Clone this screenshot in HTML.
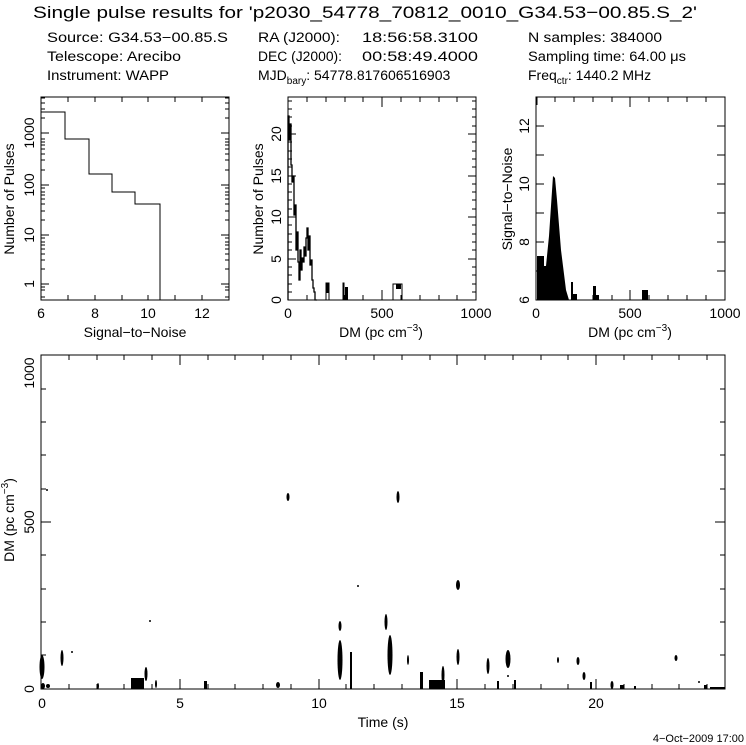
<!DOCTYPE html>
<html><head><meta charset="utf-8"><style>
html,body{margin:0;padding:0;background:#fff;}
svg{display:block;}
text{font-family:"Liberation Sans",sans-serif;fill:#000;}
</style></head><body>
<svg width="746" height="745" viewBox="0 0 746 745" xmlns="http://www.w3.org/2000/svg">
<g font-size="17">
<text x="33" y="18" textLength="664" lengthAdjust="spacingAndGlyphs">Single pulse results for 'p2030_54778_70812_0010_G34.53−00.85.S_2'</text>
</g>
<g font-size="13.5">
<text x="47" y="42" textLength="181" lengthAdjust="spacingAndGlyphs">Source: G34.53−00.85.S</text>
<text x="47" y="61" textLength="134" lengthAdjust="spacingAndGlyphs">Telescope: Arecibo</text>
<text x="47" y="80" textLength="122" lengthAdjust="spacingAndGlyphs">Instrument: WAPP</text>
<text x="258" y="42" textLength="82" lengthAdjust="spacingAndGlyphs">RA (J2000):</text>
<text x="362" y="42" textLength="116" lengthAdjust="spacingAndGlyphs">18:56:58.3100</text>
<text x="258" y="61" textLength="84" lengthAdjust="spacingAndGlyphs">DEC (J2000):</text>
<text x="362" y="61" textLength="116" lengthAdjust="spacingAndGlyphs">00:58:49.4000</text>
<text x="258" y="80" font-size="14">MJD<tspan font-size="10" dy="4">bary</tspan><tspan dy="-4">: 54778.817606516903</tspan></text>
<text x="528" y="42" textLength="134" lengthAdjust="spacingAndGlyphs">N samples: 384000</text>
<text x="528" y="61" textLength="158" lengthAdjust="spacingAndGlyphs">Sampling time: 64.00 μs</text>
<text x="528" y="80" font-size="14">Freq<tspan font-size="10" dy="4">ctr</tspan><tspan dy="-4">: 1440.2 MHz</tspan></text>
</g>

<g fill="none" stroke="#000" stroke-width="1">
<rect x="41" y="97" width="188" height="203"/>
<path d="M41,112 H65 V139 H89 V174 H112 V192 H135 V204 H160 V300"/>
<path d="M68,97v5M95,97v5M122,97v5M148,97v5M175,97v5M202,97v5M68,300v-5M95,300v-5M122,300v-5M148,300v-5M175,300v-5M202,300v-5
M41,284h8M41,235h8M41,185h8M41,133h8M229,284h-8M229,235h-8M229,185h-8M229,133h-8
M41,297h4M41,290h4M41,287h4M41,269h4M41,260h4M41,254h4M41,249h4M41,245h4M41,242h4M41,238h4M41,220h4M41,211h4M41,204h4M41,199h4M41,195h4M41,192h4M41,188h4M41,170h4M41,160h4M41,154h4M41,149h4M41,145h4M41,142h4M41,139h4M41,118h4M41,109h4M41,103h4M41,98h4
M229,297h-4M229,290h-4M229,287h-4M229,269h-4M229,260h-4M229,254h-4M229,249h-4M229,245h-4M229,242h-4M229,238h-4M229,220h-4M229,211h-4M229,204h-4M229,199h-4M229,195h-4M229,192h-4M229,188h-4M229,170h-4M229,160h-4M229,154h-4M229,149h-4M229,145h-4M229,142h-4M229,139h-4M229,118h-4M229,109h-4M229,103h-4M229,98h-4"/>
<rect x="288" y="97" width="188" height="203"/>
<path d="M307,97v5M326,97v5M345,97v5M363,97v5M382,97v10M401,97v5M420,97v5M439,97v5M457,97v5M307,300v-5M326,300v-5M345,300v-5M363,300v-5M382,300v-10M401,300v-5M420,300v-5M439,300v-5M457,300v-5
M288,259h8M288,217h8M288,176h8M288,134h8M476,259h-8M476,217h-8M476,176h-8M476,134h-8
M288,292h4M288,284h4M288,275h4M288,267h4M288,250h4M288,242h4M288,234h4M288,225h4M288,209h4M288,200h4M288,192h4M288,184h4M288,167h4M288,159h4M288,151h4M288,142h4M288,126h4M288,117h4M288,109h4M288,101h4
M476,292h-4M476,284h-4M476,275h-4M476,267h-4M476,250h-4M476,242h-4M476,234h-4M476,225h-4M476,209h-4M476,200h-4M476,192h-4M476,184h-4M476,167h-4M476,159h-4M476,151h-4M476,142h-4M476,126h-4M476,117h-4M476,109h-4M476,101h-4"/>
<path stroke-width="1.3" d="M288,300 V116 H289 V140 H290 V124 H291 V165 H292 V182 H293 V176 H294 V215 H295 V205 H296 V250 H297 V232 H298 V262 H299 V280 H300 V250 H301 V270 H302 V258 H303 V262 H304 V247 H305 V256 H306 V238 H307 V228 H308 V250 H309 V236 H310 V265 H311 V260 H312 V280 H313 V288 H314 V292 H315 V300 H317"/>
<path d="M326,300V283h3v17M343,300V283h1v17M393,300V284h9v16"/>
<path fill="#000" stroke="none" d="M326,283h3v10h-3zM345,287h3v13h-3zM396,284h5v5h-5z"/>
<rect x="536" y="97" width="189" height="203"/>
<path d="M555,97v5M574,97v5M593,97v5M612,97v5M630,97v10M649,97v5M668,97v5M687,97v5M706,97v5M555,300v-5M574,300v-5M593,300v-5M612,300v-5M630,300v-10M649,300v-5M668,300v-5M687,300v-5M706,300v-5
M536,271h8M536,242h8M536,213h8M536,184h8M536,155h8M536,126h8M725,271h-8M725,242h-8M725,213h-8M725,184h-8M725,155h-8M725,126h-8"/>
<rect x="41" y="355" width="684" height="334"/>
<path d="M69,689v-5M97,689v-5M124,689v-5M152,689v-5M180,689v-10M208,689v-5M235,689v-5M263,689v-5M291,689v-5M319,689v-10M346,689v-5M374,689v-5M402,689v-5M430,689v-5M457,689v-10M485,689v-5M513,689v-5M541,689v-5M568,689v-5M596,689v-10M624,689v-5M652,689v-5M679,689v-5M707,689v-5
M69,355v5M97,355v5M124,355v5M152,355v5M180,355v10M208,355v5M235,355v5M263,355v5M291,355v5M319,355v10M346,355v5M374,355v5M402,355v5M430,355v5M457,355v10M485,355v5M513,355v5M541,355v5M568,355v5M596,355v10M624,355v5M652,355v5M679,355v5M707,355v5
M41,655h5M41,622h5M41,589h5M41,555h5M41,522h10M41,489h5M41,455h5M41,422h5M41,389h5
M725,655h-5M725,622h-5M725,589h-5M725,555h-5M725,522h-10M725,489h-5M725,455h-5M725,422h-5M725,389h-5"/>
</g>
<g fill="#000">
<path d="M537,300 V256 h7 v10 l2,0 l3,-30 l4,-60 l2,2 l2,22 l4,50 l5,40 l3,10 Z"/>
<rect x="536" y="97" width="1.5" height="8"/>
<rect x="571" y="282" width="2" height="18"/><rect x="572" y="294" width="5" height="6"/>
<rect x="593" y="286" width="3" height="14"/><rect x="594" y="295" width="5" height="5"/>
<rect x="642" y="290" width="6" height="10"/>
</g>
<g fill="#000">
<ellipse cx="42" cy="667" rx="2.5" ry="12"/><ellipse cx="43" cy="686" rx="2" ry="3"/><ellipse cx="48" cy="686" rx="2" ry="2"/>
<ellipse cx="62" cy="658" rx="1.5" ry="8"/><circle cx="72" cy="652" r="1"/><circle cx="47" cy="490" r="1"/><circle cx="150" cy="621" r="1"/>
<ellipse cx="98" cy="686" rx="1" ry="3"/><rect x="131" y="678" width="13" height="11"/><ellipse cx="146" cy="674" rx="1.5" ry="7"/>
<ellipse cx="156" cy="684" rx="1" ry="4"/><rect x="204" y="681" width="3" height="8"/><ellipse cx="278" cy="685" rx="2" ry="3"/>
<ellipse cx="288" cy="497" rx="1.5" ry="4"/><ellipse cx="340" cy="626" rx="1.5" ry="5"/><ellipse cx="340" cy="660" rx="2.5" ry="20"/>
<rect x="350" y="652" width="2" height="37"/><circle cx="358" cy="586" r="1"/><ellipse cx="386" cy="622" rx="1.5" ry="8"/>
<ellipse cx="390" cy="655" rx="2.5" ry="20"/><ellipse cx="398" cy="497" rx="1.5" ry="6"/><ellipse cx="408" cy="660" rx="1" ry="5"/>
<rect x="420" y="672" width="3" height="17"/><rect x="429" y="680" width="16" height="9"/><ellipse cx="443" cy="675" rx="1.5" ry="9"/>
<ellipse cx="458" cy="585" rx="2" ry="5"/><ellipse cx="458" cy="657" rx="1.5" ry="8"/><ellipse cx="488" cy="666" rx="1.5" ry="8"/>
<rect x="497" y="681" width="2" height="8"/><ellipse cx="508" cy="659" rx="2.5" ry="9"/><circle cx="508" cy="676" r="1"/>
<rect x="514" y="680" width="2" height="9"/><ellipse cx="558" cy="660" rx="1" ry="3"/><ellipse cx="578" cy="661" rx="1.5" ry="4"/>
<ellipse cx="584" cy="676" rx="1.5" ry="4"/><rect x="590" y="682" width="2" height="7"/><ellipse cx="612" cy="685" rx="1.5" ry="4"/>
<rect x="620" y="685" width="4" height="4"/><rect x="634" y="686" width="2" height="3"/><ellipse cx="676" cy="658" rx="1.5" ry="3"/>
<circle cx="699" cy="682" r="1"/><rect x="704" y="685" width="3" height="4"/><rect x="710" y="687" width="15" height="2"/>
</g>

<g font-size="14" text-anchor="middle">
<text x="41" y="318">6</text><text x="95" y="318">8</text><text x="148" y="318">10</text><text x="202" y="318">12</text>
<text x="135" y="337">Signal−to−Noise</text>
<text x="288" y="318">0</text><text x="382" y="318">500</text><text x="476" y="318">1000</text>
<text x="381" y="337">DM (pc cm<tspan font-size="10" dy="-6">−3</tspan><tspan dy="6">)</tspan></text>
<text x="536" y="318">0</text><text x="630" y="318">500</text><text x="725" y="318">1000</text>
<text x="630" y="337">DM (pc cm<tspan font-size="10" dy="-6">−3</tspan><tspan dy="6">)</tspan></text>
<text x="42" y="708">0</text><text x="180" y="708">5</text><text x="319" y="708">10</text><text x="457" y="708">15</text><text x="596" y="708">20</text>
<text x="383" y="727">Time (s)</text>
</g>
<g font-size="14" text-anchor="middle">
<text transform="translate(34,284) rotate(-90)">1</text>
<text transform="translate(34,235) rotate(-90)">10</text>
<text transform="translate(34,185) rotate(-90)">100</text>
<text transform="translate(34,133) rotate(-90)">1000</text>
<text transform="translate(14,199) rotate(-90)">Number of Pulses</text>
<text transform="translate(281,300) rotate(-90)">0</text>
<text transform="translate(281,259) rotate(-90)">5</text>
<text transform="translate(281,217) rotate(-90)">10</text>
<text transform="translate(281,176) rotate(-90)">15</text>
<text transform="translate(281,134) rotate(-90)">20</text>
<text transform="translate(263,199) rotate(-90)">Number of Pulses</text>
<text transform="translate(529,300) rotate(-90)">6</text>
<text transform="translate(529,242) rotate(-90)">8</text>
<text transform="translate(529,184) rotate(-90)">10</text>
<text transform="translate(529,126) rotate(-90)">12</text>
<text transform="translate(512,199) rotate(-90)">Signal−to−Noise</text>
<text transform="translate(34,689) rotate(-90)">0</text>
<text transform="translate(34,522) rotate(-90)">500</text>
<text transform="translate(34,373) rotate(-90)">1000</text>
<text transform="translate(14,520) rotate(-90)">DM (pc cm<tspan font-size="10" dy="-6">−3</tspan><tspan dy="6">)</tspan></text>
</g>
<text x="744" y="742" font-size="11" text-anchor="end">4−Oct−2009 17:00</text>
</svg>
</body></html>
